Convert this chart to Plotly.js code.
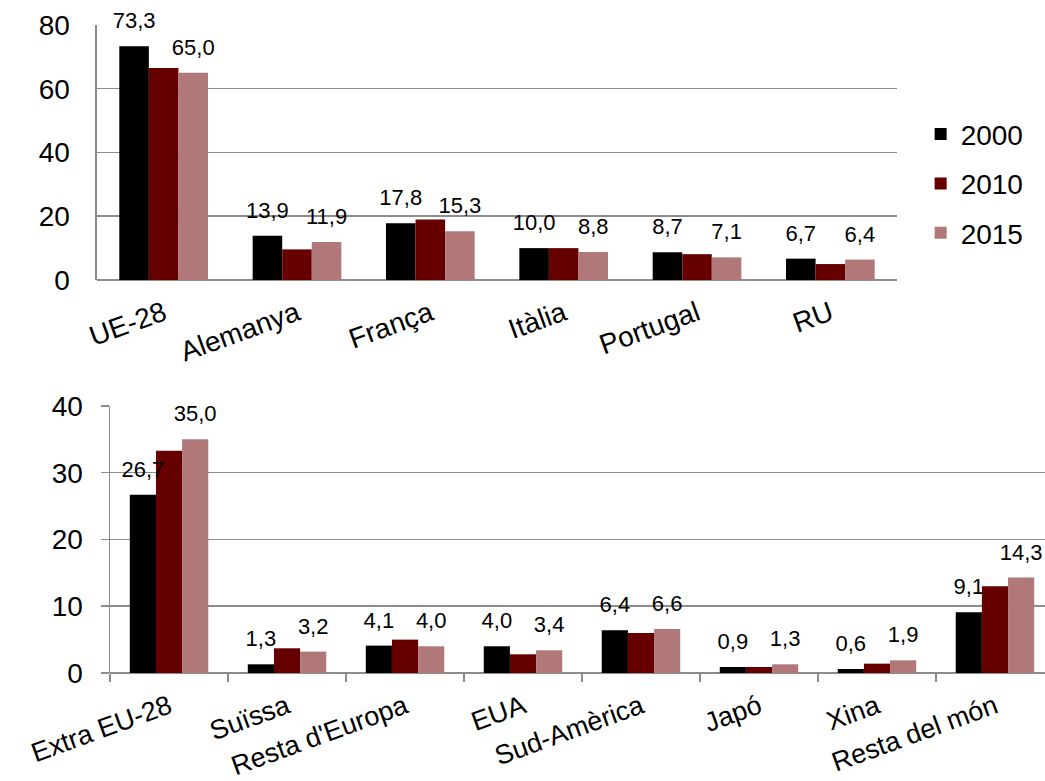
<!DOCTYPE html>
<html><head><meta charset="utf-8">
<script src="https://cdn.plot.ly/plotly-3.0.1.min.js"></script>
<style>html,body{margin:0;padding:0;background:#fff}#c{width:1045px;height:781px}</style>
</head><body><div id="c"></div>
<script>
const years = ['2000', '2010', '2015'];
const colors = ['#000000', '#660000', '#B07878'];

const topCats = ['UE-28', 'Alemanya', 'França', 'Itàlia', 'Portugal', 'RU'];
const top2000 = [73.3, 13.9, 17.8, 10.0, 8.7, 6.7];
const top2010 = [66.5, 9.6, 19.0, 10.0, 8.1, 5.0];
const top2015 = [65.0, 11.9, 15.3, 8.8, 7.1, 6.4];

const botCats = ['Extra EU-28', 'Suïssa', "Resta d'Europa", 'EUA', 'Sud-Amèrica', 'Japó', 'Xina', 'Resta del món'];
const bot2000 = [26.7, 1.3, 4.1, 4.0, 6.4, 0.9, 0.6, 9.1];
const bot2010 = [33.3, 3.7, 5.0, 2.8, 6.0, 0.9, 1.4, 13.0];
const bot2015 = [35.0, 3.2, 4.0, 3.4, 6.6, 1.3, 1.9, 14.3];

const labelledYears = ['2000', '2015'];

function fmt(v) { return v.toFixed(1).replace('.', ','); }
function labels(vals) {
  return vals.map(v => '<span style="font-size:22px">' + fmt(v) + '</span><br> ');
}

const FONT = 'Liberation Sans, Arial, sans-serif';
const traces = [];
const labelTraces = [];
const panels = [
  {cats: topCats, series: [top2000, top2010, top2015], xa: 'x', ya: 'y', legend: true},
  {cats: botCats, series: [bot2000, bot2010, bot2015], xa: 'x2', ya: 'y2', legend: false}
];
panels.forEach(p => {
  years.forEach((y, i) => {
    traces.push({
      type: 'bar', x: p.cats, y: p.series[i], name: y, xaxis: p.xa, yaxis: p.ya,
      offsetgroup: 'g' + i,
      marker: {color: colors[i], line: {width: 0}},
      legendgroup: y, showlegend: p.legend, hoverinfo: 'skip'
    });
    if (labelledYears.indexOf(y) >= 0) {
      labelTraces.push({
        type: 'bar', x: p.cats, y: p.series[i], name: y, xaxis: p.xa, yaxis: p.ya,
        offsetgroup: 'g' + i,
        marker: {color: 'rgba(0,0,0,0)', line: {width: 0}},
        text: labels(p.series[i]), textposition: 'outside', cliponaxis: false,
        constraintext: 'none',
        textfont: {size: 10, color: '#000', family: FONT},
        showlegend: false, hoverinfo: 'skip'
      });
    }
  });
});

const gridColor = '#8c8c8c';
const layout = {
  width: 1045, height: 781,
  margin: {l: 0, r: 0, t: 0, b: 0},
  paper_bgcolor: '#fff', plot_bgcolor: '#fff',
  font: {family: FONT, color: '#000'},
  barmode: 'group', bargap: 0.335, bargroupgap: 0,
  showlegend: true,
  legend: {x: 0.881, y: 0.86, xanchor: 'left', yanchor: 'top',
           font: {size: 28, family: FONT}, tracegroupgap: 10, traceorder: 'grouped',
           itemwidth: 30},
  xaxis: {domain: [0.0928, 0.8584], anchor: 'y', type: 'category',
          tickangle: -20, tickfont: {size: 28, family: FONT}, ticklabelstandoff: 11,
          showline: false, ticks: '', showgrid: false},
  yaxis: {domain: [0.6415, 0.968], anchor: 'x', range: [0, 80], dtick: 20,
          tickfont: {size: 28, family: FONT}, showgrid: true, gridcolor: gridColor, gridwidth: 1.5,
          showline: true, linecolor: gridColor, linewidth: 1.5, ticks: '',
          zeroline: true, zerolinecolor: gridColor, zerolinewidth: 1.5, ticklabelstandoff: 20},
  xaxis2: {domain: [0.1053, 1.0], anchor: 'y2', type: 'category', range: [-0.5, 7.424],
           tickangle: -20, tickfont: {size: 27, family: FONT}, ticklabelstandoff: 12,
           showline: false, ticks: 'outside', tickson: 'boundaries', ticklen: 8,
           tickcolor: gridColor, tickwidth: 1.5, showgrid: false},
  yaxis2: {domain: [0.1383, 0.4802], anchor: 'x2', range: [0, 40], dtick: 10,
           tickfont: {size: 28, family: FONT}, showgrid: true, gridcolor: gridColor, gridwidth: 1.5,
           showline: true, linecolor: gridColor, linewidth: 1.5, ticks: 'outside', ticklen: 8,
           tickcolor: gridColor, tickwidth: 1.5,
           zeroline: true, zerolinecolor: gridColor, zerolinewidth: 1.5, ticklabelstandoff: 12}
};
Plotly.newPlot('c', traces.concat(labelTraces), layout, {displayModeBar: false, staticPlot: true});
</script>
</body></html>
